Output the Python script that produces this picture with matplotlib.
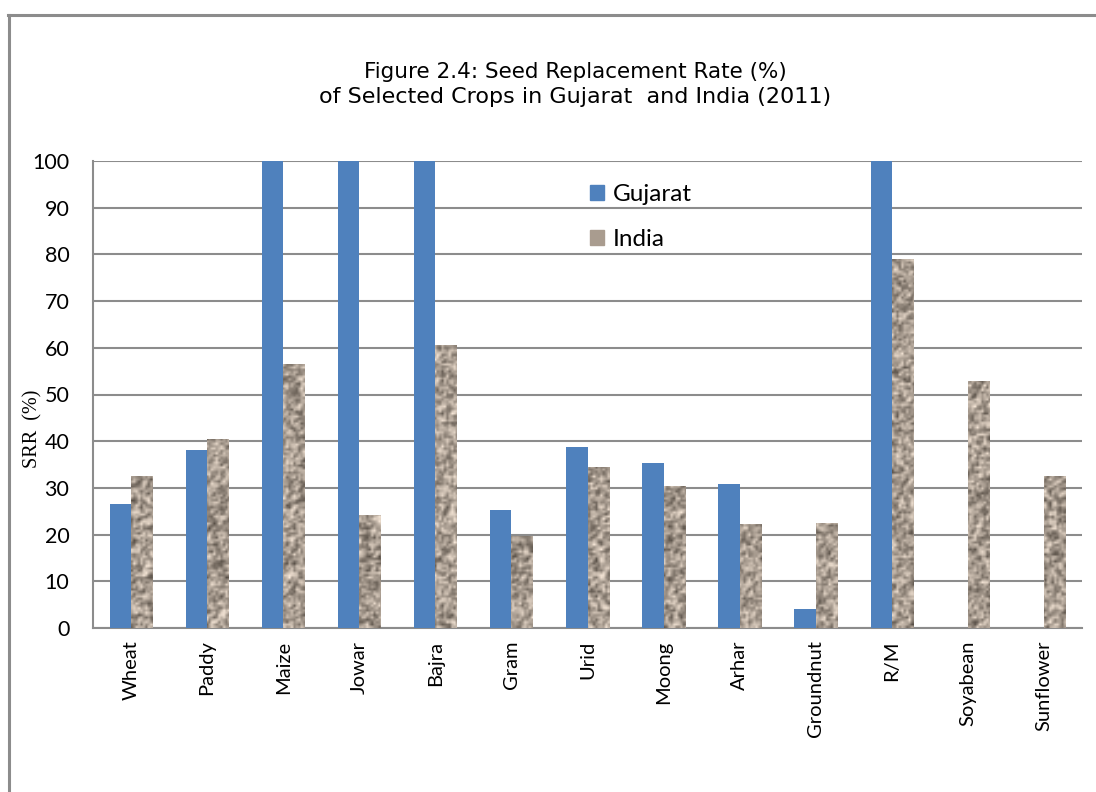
import numpy as np
import matplotlib.pyplot as plt
from matplotlib.patches import Rectangle
from matplotlib.lines import Line2D

# data
crops = ["Wheat", "Paddy", "Maize", "Jowar", "Bajra", "Gram", "Urid",
         "Moong", "Arhar", "Groundnut", "R/M", "Soyabean", "Sunflower"]
gujarat = [26.5, 38.1, 100, 100, 100, 25.3, 38.8, 35.3, 30.8, 4.1, 100, 0, 0]
india = [32.5, 40.5, 56.5, 24.1, 60.6, 19.6, 34.5, 30.4, 22.3, 22.5, 79.0, 52.9, 32.5]

blue = "#4f81bd"
stone = "#a99c8f"
grid_gray = "#8c8c8c"

fig = plt.figure(figsize=(10.96, 7.92), dpi=100)
ax = fig.add_axes([93 / 1096, 1 - 628 / 792, (1082 - 93) / 1096, (628 - 161) / 792])

x = np.arange(len(crops))
w = 0.28
ax.bar(x - w / 2, gujarat, width=w, color=blue, label="Gujarat", zorder=3)
india_bars = ax.bar(x + w / 2, india, width=w, color=stone, linewidth=0,
                    label="India", zorder=3)

# granite-like fill for the India bars (integer hash noise, style only)
th, tw = 200, 420
ii, jj = np.mgrid[0:th, 0:tw].astype(np.uint64)
mask = np.uint64(0xFFFFFFFF)
hsh = (ii * np.uint64(374761393) + jj * np.uint64(668265263)) & mask
hsh = ((hsh ^ (hsh >> np.uint64(13))) * np.uint64(1274126177)) & mask
hsh = hsh ^ (hsh >> np.uint64(16))
noise = (hsh % np.uint64(10000)).astype(float) / 10000.0
noise = (noise + 0.6 * (np.roll(noise, 1, 0) + np.roll(noise, 1, 1))) / 2.2
noise = (noise - noise.mean()) / noise.std()
base = np.array([168, 156, 144]) / 255.0
tex = np.clip(base[None, None, :] + noise[..., None] * np.array([0.12, 0.115, 0.11]), 0, 1)
x0, x1 = -0.5, len(crops) - 0.5
for bar in india_bars:
    im = ax.imshow(tex, extent=(x0, x1, 0, 100), aspect="auto", zorder=3.5,
                   interpolation="bilinear")
    im.set_clip_path(bar)

ax.set_xlim(x0, x1)
ax.set_ylim(0, 100)
ax.set_yticks(range(0, 101, 10))
ax.set_xticks(x)
ax.set_xticklabels(crops, rotation=90, fontsize=14.5, family="Lato")
for lab in ax.get_yticklabels():
    lab.set_fontsize(15.5)
    lab.set_family("Lato")
ax.tick_params(axis="y", length=0, pad=17)
ax.tick_params(axis="x", length=0, pad=9)
ax.yaxis.grid(True, color=grid_gray, linewidth=1.5, zorder=0)
for side in ["top", "right"]:
    ax.spines[side].set_visible(False)
for side in ["left", "bottom"]:
    ax.spines[side].set_color(grid_gray)
    ax.spines[side].set_linewidth(1.5)

# legend
handles = [Rectangle((0, 0), 1, 1, color=blue),
           Rectangle((0, 0), 1, 1, color=stone)]
fig.legend(handles, ["Gujarat", "India"], loc="upper left",
           bbox_to_anchor=(568 / 1096, 1 - 162 / 792), frameon=False,
           prop={"family": "Lato", "size": 17.5}, handlelength=0.6, handleheight=0.6,
           handletextpad=0.35, labelspacing=1.0)

# titles and y label
fig.text(575 / 1096, 1 - 72 / 792, "Figure 2.4: Seed Replacement Rate (%)",
         ha="center", va="center", fontsize=15.5, family="DejaVu Sans")
fig.text(575 / 1096, 1 - 97 / 792, "of Selected Crops in Gujarat  and India (2011)",
         ha="center", va="center", fontsize=16, family="DejaVu Sans")
fig.text(33 / 1096, 1 - 429 / 792, "SRR  (%)", rotation=90, ha="center", va="center",
         fontsize=14.5, family="Liberation Serif")

# outer chart border (runs off the right and bottom edges)
fig.add_artist(Line2D([9 / 1096, 9 / 1096], [0, 1 - 15 / 792], transform=fig.transFigure,
                      color="#8c8c8c", linewidth=2.2))
fig.add_artist(Line2D([8 / 1096, 1], [1 - 15 / 792, 1 - 15 / 792], transform=fig.transFigure,
                      color="#8c8c8c", linewidth=2.2))

fig.savefig("out.png", dpi=100, facecolor="white")
